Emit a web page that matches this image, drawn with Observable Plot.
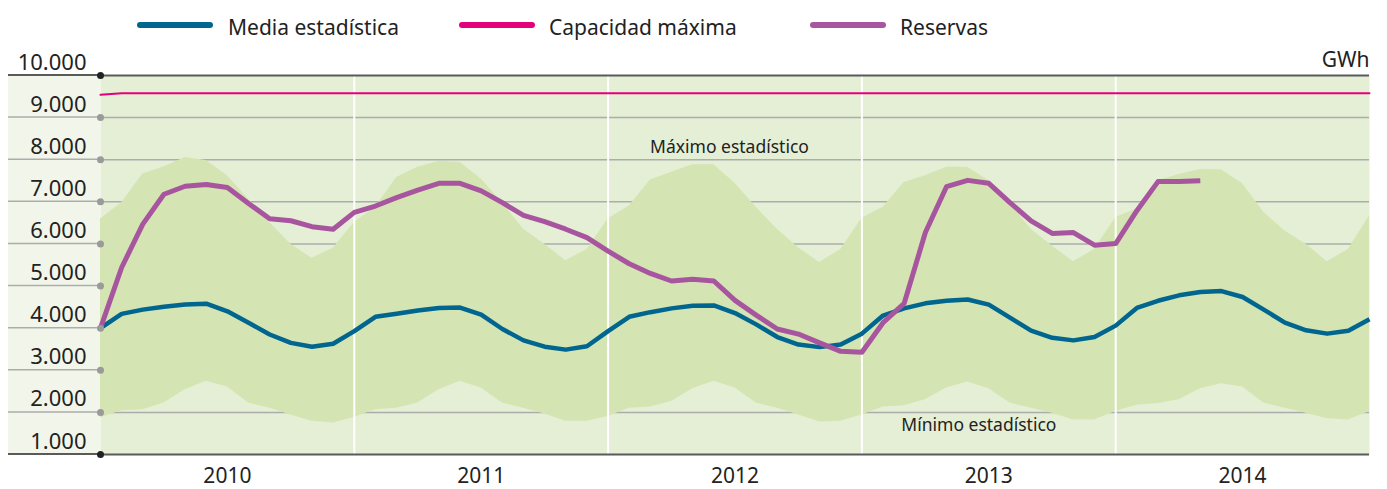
<!DOCTYPE html>
<html><head><meta charset="utf-8">
<script src="https://cdn.jsdelivr.net/npm/d3@7"></script>
<script src="https://cdn.jsdelivr.net/npm/@observablehq/plot@0.6"></script>
<style>
body{margin:0;background:#fff;font-family:"Noto Sans",sans-serif;}
#legend{position:relative;height:50px;width:1387px;}
.sw{position:absolute;top:22px;height:6px;border-radius:3px;}
.lb{position:absolute;top:12px;font-size:21px;color:#222;line-height:30px;white-space:nowrap;}
#chart svg{display:block;overflow:visible;}
</style></head><body>
<div id="legend"></div>
<div id="chart"></div>
<script>
// ---- data (monthly, Jan 2010 .. Jan 2015) ----
const yearLabels = ["2010", "2011", "2012", "2013", "2014"];
const yearMid = [6, 18, 30, 42, 54];          // month index of year centres
const yearBounds = [12, 24, 36, 48];          // month index of Jan of each year
const yTicks = [1000, 2000, 3000, 4000, 5000, 6000, 7000, 8000, 9000, 10000];

const bandMax = [6590, 6980, 7660, 7830, 8050, 7980, 7620, 7060, 6510, 5990, 5660, 5900,
                 6510, 6870, 7580, 7820, 7960, 7940, 7540, 6980, 6350, 5990, 5600, 5870,
                 6590, 6900, 7520, 7700, 7880, 7880, 7440, 6870, 6350, 5910, 5560, 5870,
                 6610, 6870, 7460, 7620, 7820, 7820, 7500, 6980, 6350, 5950, 5580, 5870,
                 6630, 6830, 7500, 7650, 7770, 7760, 7430, 6750, 6310, 5990, 5580, 5870,
                 6670];
const bandMin = [1870, 2040, 2060, 2220, 2540, 2740, 2600, 2220, 2100, 1940, 1790, 1750,
                 1880, 2060, 2100, 2220, 2540, 2740, 2580, 2220, 2100, 1960, 1790, 1790,
                 1900, 2100, 2130, 2260, 2560, 2740, 2580, 2220, 2100, 1940, 1770, 1790,
                 1940, 2130, 2160, 2300, 2580, 2720, 2560, 2220, 2100, 1980, 1820, 1820,
                 2020, 2170, 2210, 2300, 2560, 2680, 2600, 2220, 2100, 1980, 1850, 1820,
                 2020];
const media   = [4000, 4340, 4440, 4510, 4560, 4580, 4400, 4130, 3850, 3650, 3560, 3630,
                 3930, 4270, 4340, 4420, 4480, 4490, 4320, 3980, 3710, 3560, 3490, 3570,
                 3930, 4270, 4380, 4470, 4530, 4540, 4360, 4090, 3790, 3610, 3550, 3610,
                 3870, 4300, 4470, 4590, 4650, 4680, 4560, 4250, 3940, 3770, 3710, 3790,
                 4060, 4480, 4650, 4780, 4860, 4880, 4740, 4440, 4130, 3950, 3870, 3940,
                 4210];
const reservas = [4000, 5440, 6470, 7180, 7370, 7410, 7340, 6960, 6600, 6550, 6410, 6350,
                  6750, 6900, 7100, 7280, 7440, 7440, 7260, 6980, 6680, 6530, 6350, 6150,
                  5830, 5530, 5300, 5120, 5160, 5120, 4660, 4310, 3980, 3860, 3650, 3450,
                  3430, 4130, 4590, 6270, 7360, 7510, 7440, 6980, 6550, 6250, 6270, 5970,
                  6010, 6790, 7480, 7480, 7500];
const capIdx = [0, 1, 60];
const capVal = [9540, 9580, 9580];

const C = {media: "#00658f", cap: "#e4007c", res: "#a8559f", band: "#d4e5b3", bg: "#e5efd6", left: "#f2f6ea"};

// ---- legend ----
const legendItems = [
  {label: "Media estadística", color: C.media, sx: 137, tx: 228},
  {label: "Capacidad máxima", color: C.cap, sx: 459, tx: 549},
  {label: "Reservas", color: C.res, sx: 810, tx: 900}
];
const lg = d3.select("#legend");
for (const it of legendItems) {
  lg.append("div").attr("class", "sw").style("left", it.sx + "px").style("width", "76px").style("background", it.color);
  lg.append("div").attr("class", "lb").style("left", it.tx + "px").text(it.label);
}

// ---- tables ----
const table = media.map((v, i) => ({i, media: v, max: bandMax[i], min: bandMin[i]}));
const resTable = reservas.map((v, i) => ({i, res: v}));
const capTable = capIdx.map((i, k) => ({i, v: capVal[k]}));
const fmt = d3.formatLocale({decimal: ",", thousands: ".", grouping: [3], currency: ["", "€"]}).format(",d");
const isEdge = t => t === 1000 || t === 10000;

const leftPanel = (index, {x, y}) => {
  const g = d3.create("svg:g");
  g.append("rect").attr("x", 8).attr("y", y(10000)).attr("width", x(0) - 8)
    .attr("height", y(1000) - y(10000)).attr("fill", C.left);
  for (const t of yTicks) {
    g.append("line").attr("x1", 8).attr("x2", x(0)).attr("y1", y(t)).attr("y2", y(t))
      .attr("stroke", isEdge(t) ? "#5a5a5a" : "#acacac").attr("stroke-width", isEdge(t) ? 2 : 1.5);
  }
  return g.node();
};

const chart = Plot.plot({
  width: 1387, height: 439,
  marginLeft: 100, marginRight: 18, marginTop: 25, marginBottom: 35,
  style: {fontFamily: "'Noto Sans', sans-serif", background: "transparent", color: "#222"},
  x: {domain: [0, 60], axis: null},
  y: {domain: [1000, 10000], axis: null},
  marks: [
    leftPanel,
    Plot.frame({fill: C.bg, stroke: "none"}),
    Plot.ruleY(yTicks.filter(t => !isEdge(t)), {stroke: "#acacac", strokeWidth: 1.5}),
    Plot.areaY(table, {x: "i", y1: "min", y2: "max", fill: C.band}),
    Plot.ruleX(yearBounds, {stroke: "#ffffff", strokeWidth: 2}),
    Plot.ruleY(yTicks.filter(isEdge), {stroke: "#5a5a5a", strokeWidth: 2}),
    Plot.line(capTable, {x: "i", y: "v", stroke: C.cap, strokeWidth: 2}),
    Plot.line(table, {x: "i", y: "media", stroke: C.media, strokeWidth: 4.5, strokeLinecap: "butt"}),
    Plot.line(resTable, {x: "i", y: "res", stroke: C.res, strokeWidth: 5, strokeLinecap: "butt"}),
    Plot.dot(yTicks, {x: 0, y: d => d, r: 3.5, fill: d => isEdge(d) ? "#222" : "#9a9a9a", stroke: "none"}),
    Plot.text(yTicks, {x: 0, y: d => d, text: d => fmt(d), textAnchor: "end", dx: -14, dy: -13, fontSize: 22, fill: "#222"}),
    Plot.text(yearLabels, {x: yearMid, y: 1000, dy: 22, fontSize: 21, fill: "#222"}),
    Plot.text(["GWh"], {frameAnchor: "top-right", lineAnchor: "middle", dy: -15, fontSize: 21, fill: "#222"}),
    Plot.text(["Máximo estadístico"], {x: 29.74, y: 8290, fontSize: 17.5, fill: "#222"}),
    Plot.text(["Mínimo estadístico"], {x: 41.53, y: 1690, fontSize: 17.5, fill: "#222"})
  ]
});
document.getElementById("chart").appendChild(chart);
</script>
</body></html>
